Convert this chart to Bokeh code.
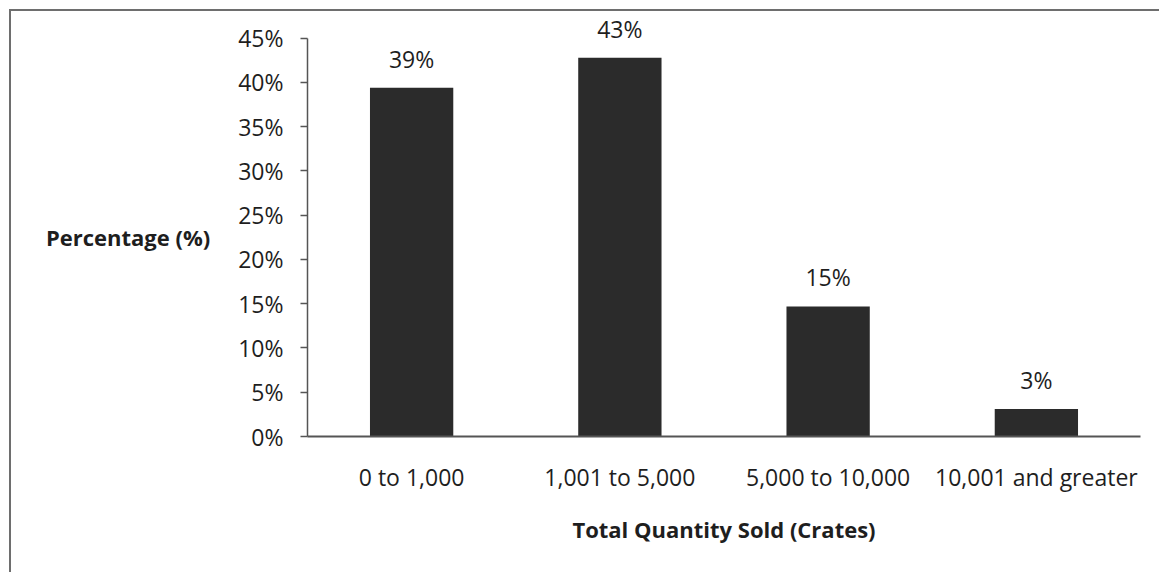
from bokeh.plotting import figure
from bokeh.models import (ColumnDataSource, FactorRange, Range1d, FixedTicker,
                          PrintfTickFormatter, LabelSet)
from bokeh.core.properties import value
from bokeh.embed import file_html
from bokeh.resources import INLINE

# Share of sellers by total quantity sold
categories = ["0 to 1,000", "1,001 to 5,000", "5,000 to 10,000", "10,001 and greater"]
share_pct = [39.4, 42.8, 14.7, 3.1]
y_ticks = [0, 5, 10, 15, 20, 25, 30, 35, 40, 45]

FONT = "Open Sans"
TEXT = "#1e1e1e"

source = ColumnDataSource(dict(
    cat=categories,
    val=share_pct,
    label=[f"{round(v)}%" for v in share_pct],
))

p = figure(
    width=1150, height=563,
    x_range=FactorRange(*categories, range_padding=0),
    y_range=Range1d(0, 47.57),
    output_backend="svg", toolbar_location=None,
    min_border_left=296, min_border_right=21,
    min_border_top=4, min_border_bottom=138,
    background_fill_color="white", border_fill_color="white",
)
# chart area frame: thin grey rule along the top and left edges
p.styles = {
    "margin-left": "9px", "margin-top": "9px",
    "border-left": "2px solid #6e6e6e", "border-top": "2px solid #6e6e6e",
}
p.outline_line_color = None
p.xgrid.grid_line_color = None
p.ygrid.grid_line_color = None

p.vbar(x="cat", top="val", width=0.4, source=source,
       fill_color="#2b2b2b", line_color=None)

p.add_layout(LabelSet(
    x="cat", y="val", text="label", source=source,
    y_offset=20, text_align="center", text_baseline="alphabetic",
    text_font=value(FONT), text_font_size="23px", text_color=TEXT,
))

# vertical axis
ya = p.yaxis[0]
ya.ticker = FixedTicker(ticks=y_ticks)
ya.formatter = PrintfTickFormatter(format="%d%%")
ya.bounds = (0, 45)
ya.axis_label = "\nPercentage (%)"
ya.axis_label_orientation = "horizontal"
ya.axis_label_standoff = 25
ya.axis_label_text_font = FONT
ya.axis_label_text_font_style = "bold"
ya.axis_label_text_font_size = "22px"
ya.axis_label_text_line_height = 0.75
ya.axis_label_text_color = TEXT
ya.major_label_text_font = FONT
ya.major_label_text_font_size = "23px"
ya.major_label_text_color = TEXT
ya.major_label_standoff = 17
ya.major_tick_out = 7
ya.major_tick_in = 0
ya.minor_tick_out = 0
ya.minor_tick_in = 0
ya.axis_line_color = "#555555"
ya.axis_line_width = 1.5
ya.major_tick_line_color = "#555555"
ya.major_tick_line_width = 1.5

# category axis
xa = p.xaxis[0]
xa.axis_label = "Total Quantity Sold (Crates)"
xa.axis_label_standoff = 18
xa.axis_label_text_font = FONT
xa.axis_label_text_font_style = "bold"
xa.axis_label_text_font_size = "22px"
xa.axis_label_text_color = TEXT
xa.major_label_text_font = FONT
xa.major_label_text_font_size = "23px"
xa.major_label_text_color = TEXT
xa.major_label_standoff = 24
xa.major_tick_out = 0
xa.major_tick_in = 0
xa.axis_line_color = "#555555"
xa.axis_line_width = 2

open("out.html", "w").write(file_html(p, INLINE))
